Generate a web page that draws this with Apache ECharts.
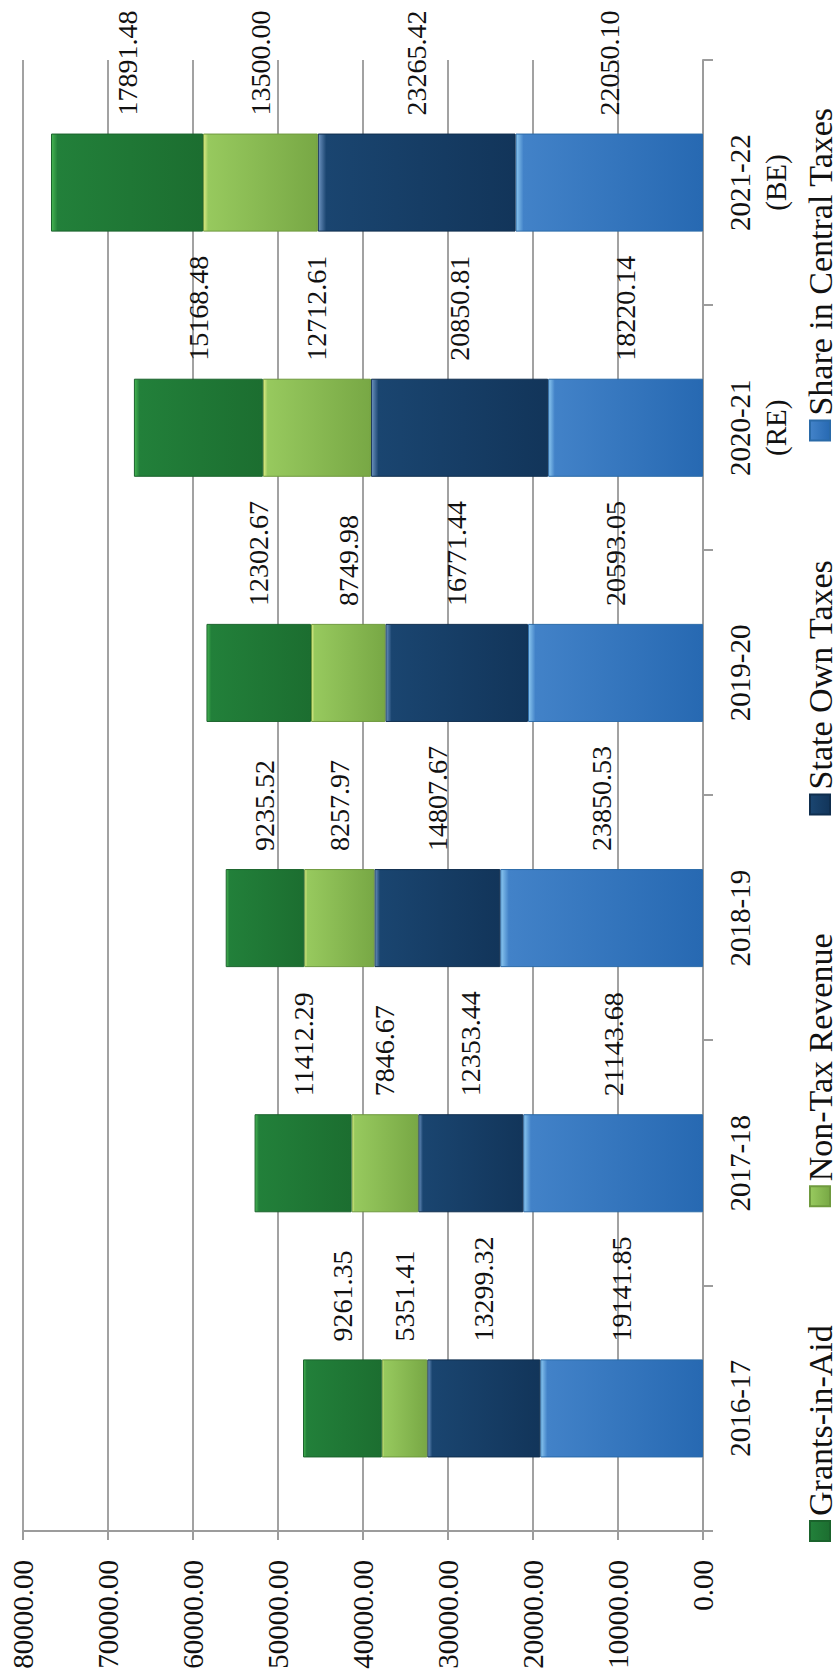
<!DOCTYPE html>
<html>
<head>
<meta charset="utf-8">
<script src="https://cdn.jsdelivr.net/npm/echarts@6/dist/echarts.min.js"></script>
<style>
  html, body { margin: 0; padding: 0; background: #ffffff; overflow: hidden; }
  body { width: 837px; height: 1678px; position: relative; }
  #chart {
    position: absolute; left: 0; top: 0;
    width: 1678px; height: 837px;
    transform-origin: 0 0;
    transform: translate(0, 1678px) rotate(-90deg);
  }
</style>
</head>
<body>
<div id="chart"></div>
<script>
const categories = ['2016-17', '2017-18', '2018-19', '2019-20', '2020-21\n(RE)', '2021-22\n(BE)'];
const shareInCentralTaxes = [19141.85, 21143.68, 23850.53, 20593.05, 18220.14, 22050.10];
const stateOwnTaxes = [13299.32, 12353.44, 14807.67, 16771.44, 20850.81, 23265.42];
const nonTaxRevenue = [5351.41, 7846.67, 8257.97, 8749.98, 12712.61, 13500.00];
const grantsInAid = [9261.35, 11412.29, 9235.52, 12302.67, 15168.48, 17891.48];
const valueTicks = { min: 0, max: 80000, interval: 10000 };

const FONT = '"Liberation Serif", "DejaVu Serif", serif';

function grad(edge, light, dark) {
  return new echarts.graphic.LinearGradient(0, 0, 0, 1, [
    { offset: 0, color: edge },
    { offset: 0.04, color: light },
    { offset: 1, color: dark }
  ]);
}

function makeSeries(name, data, color, border) {
  return {
    name: name,
    type: 'bar',
    stack: 'total',
    barWidth: '40%',
    data: data,
    itemStyle: { color: color, borderColor: border, borderWidth: 1 },
    label: {
      show: true,
      position: 'right',
      distance: 18,
      fontFamily: FONT,
      fontSize: 28,
      color: '#111',
      formatter: p => Number(p.value).toFixed(2)
    }
  };
}

const chart = echarts.init(document.getElementById('chart'), null, { renderer: 'svg', width: 1678, height: 837 });

chart.setOption({
  backgroundColor: '#ffffff',
  animation: false,
  grid: { left: 147, right: 60, top: 23, bottom: 134, containLabel: false },
  legend: {
    data: ['Grants-in-Aid', 'Non-Tax Revenue', 'State Own Taxes', 'Share in Central Taxes'],
    left: 136,
    bottom: 0,
    padding: 0,
    itemWidth: 20,
    itemHeight: 20,
    itemGap: 118,
    icon: 'rect',
    textStyle: { fontFamily: FONT, fontSize: 34, lineHeight: 34, color: '#111' }
  },
  xAxis: {
    type: 'category',
    data: categories,
    axisLine: { show: true, lineStyle: { color: '#9c9c9c', width: 2 } },
    axisTick: { show: true, length: 10, lineStyle: { color: '#9c9c9c', width: 2 } },
    axisLabel: { fontFamily: FONT, fontSize: 29, lineHeight: 36, color: '#111', margin: 19, interval: 0 }
  },
  yAxis: {
    type: 'value',
    min: valueTicks.min,
    max: valueTicks.max,
    interval: valueTicks.interval,
    axisLine: { show: true, lineStyle: { color: '#9c9c9c', width: 2 } },
    axisTick: { show: true, length: 9, lineStyle: { color: '#9c9c9c', width: 2 } },
    splitLine: { show: true, lineStyle: { color: '#a2a2a2', width: 2 } },
    axisLabel: {
      fontFamily: FONT, fontSize: 29, color: '#111', margin: 29,
      formatter: v => Number(v).toFixed(2)
    }
  },
  series: [
    makeSeries('Share in Central Taxes', shareInCentralTaxes, grad('#8cc8f0', '#4282c8', '#2769b2'), '#2a6aa8'),
    makeSeries('State Own Taxes', stateOwnTaxes, grad('#6d93c0', '#1a4570', '#12355a'), '#0f2e4e'),
    makeSeries('Non-Tax Revenue', nonTaxRevenue, grad('#e0ec86', '#97c95e', '#78a845'), '#6f9a3e'),
    makeSeries('Grants-in-Aid', grantsInAid, grad('#45b552', '#22803a', '#1c6e30'), '#1a632c')
  ]
});
</script>
</body>
</html>
